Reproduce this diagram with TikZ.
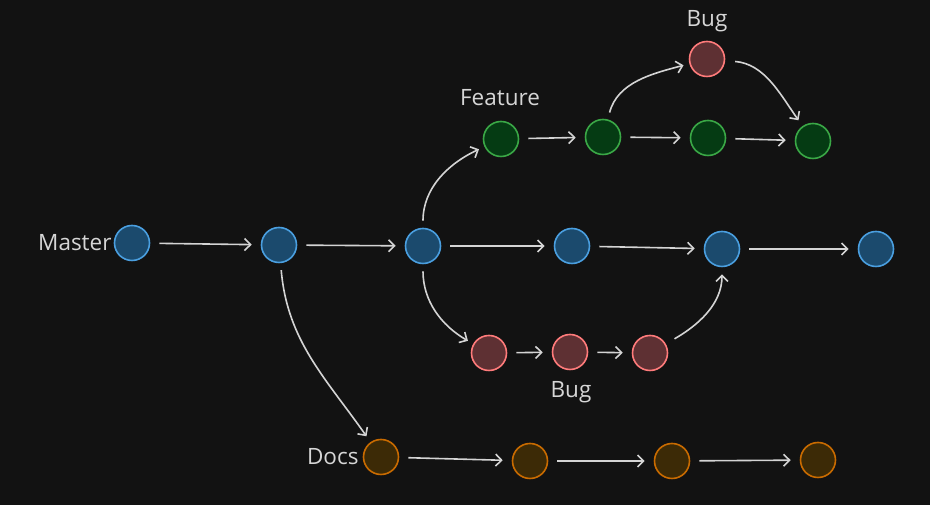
\documentclass[tikz,border=0pt]{standalone}
\usepackage{fontspec}
\setmainfont{Open Sans}
\usetikzlibrary{arrows.meta}
\definecolor{bg}{HTML}{121212}
\definecolor{txt}{HTML}{D6D6D6}
\definecolor{edge}{HTML}{D4D4D4}
\definecolor{blueline}{HTML}{4A9FE0}
\definecolor{bluefill}{HTML}{1B4A6D}
\definecolor{greenline}{HTML}{3AA846}
\definecolor{greenfill}{HTML}{053B13}
\definecolor{redline}{HTML}{FF7B7B}
\definecolor{redfill}{HTML}{5E3033}
\definecolor{orangeline}{HTML}{C96B00}
\definecolor{orangefill}{HTML}{3C2A06}
\begin{document}
\begin{tikzpicture}[x=1pt,y=1pt,
  commit/.style={circle,line width=1.6pt,minimum size=35pt,inner sep=0pt},
  mnode/.style={commit,draw=blueline,fill=bluefill},
  fnode/.style={commit,draw=greenline,fill=greenfill},
  bnode/.style={commit,draw=redline,fill=redfill},
  dnode/.style={commit,draw=orangeline,fill=orangefill},
  lbl/.style={text=txt,font=\fontsize{22.5}{26}\selectfont},
  link/.style={edge,line width=1.6pt,-{Straight Barb[length=6pt,width=12pt]},shorten <=9pt,shorten >=9pt}]
\fill[bg] (0,0) rectangle (930,505);
\useasboundingbox (0,0) rectangle (930,505);
% master
\node[mnode] (m1) at (132,262) {};
\node[mnode] (m2) at (279,260) {};
\node[mnode] (m3) at (423,259) {};
\node[mnode] (m4) at (572,259) {};
\node[mnode] (m5) at (722,256) {};
\node[mnode] (m6) at (876,256) {};
% feature
\node[fnode] (f1) at (501,366) {};
\node[fnode] (f2) at (603,368) {};
\node[fnode] (f3) at (708,367) {};
\node[fnode] (f4) at (813,364) {};
% bugs
\node[bnode] (b0) at (707,446) {};
\node[bnode] (c1) at (489,152) {};
\node[bnode] (c2) at (570,153) {};
\node[bnode] (c3) at (650,152) {};
% docs
\node[dnode] (d1) at (381,48) {};
\node[dnode] (d2) at (530,44) {};
\node[dnode] (d3) at (672,44) {};
\node[dnode] (d4) at (818,45) {};
% labels
\node[lbl,left,inner sep=2pt] (lmaster) at (m1.west) {Master};
\node[lbl] (lfeature) at (500,407) {Feature};
\node[lbl] (lbugtop) at (707,484) {Bug};
\node[lbl] (lbugbot) at (571,113) {Bug};
\node[lbl,left,inner sep=4pt] (ldocs) at (d1.west) {Docs};
% links
\draw[link] (m1) -- (m2);
\draw[link] (m2) -- (m3);
\draw[link] (m3) -- (m4);
\draw[link] (m4) -- (m5);
\draw[link] (m5) -- (m6);
\draw[link] (f1) -- (f2);
\draw[link] (f2) -- (f3);
\draw[link] (f3) -- (f4);
\draw[link] (c1) -- (c2);
\draw[link] (c2) -- (c3);
\draw[link] (d1) -- (d2);
\draw[link] (d2) -- (d3);
\draw[link] (d3) -- (d4);
\draw[link,shorten <=7pt,shorten >=6pt] (m3) to[out=90,in=205] (f1);
\draw[link,shorten <=7pt,shorten >=6pt] (m3) to[out=-90,in=150] (c1);
\draw[link,shorten <=7pt,shorten >=6pt] (f2) to[out=75,in=195] (b0);
\draw[link,shorten <=10pt,shorten >=7pt] (b0) to[out=-5,in=125] (f4);
\draw[link,shorten <=10pt,shorten >=7pt] (c3) to[out=30,in=-90] (m5);
\draw[link,shorten <=7pt,shorten >=7pt] (m2) to[out=-85,in=125] (d1);
\end{tikzpicture}
\end{document}
